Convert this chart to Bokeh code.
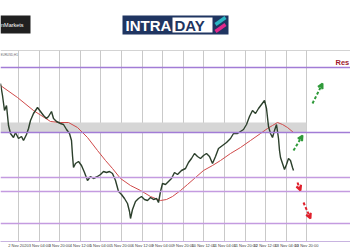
from bokeh.plotting import figure
from bokeh.layouts import column
from bokeh.models import Range1d, FixedTicker, Arrow, VeeHead, ColumnDataSource, Label, Span
from bokeh.core.properties import value
from bokeh.embed import file_html
from bokeh.resources import INLINE

# ---------------- data ----------------
bars = [0, 2, 4, 6, 8, 10, 13, 15, 18, 21, 23, 26, 28, 30, 33, 35, 37, 40, 43, 46, 48, 51, 53, 56,
        60, 63, 66, 69, 71, 72, 73, 75, 78, 81, 84, 87, 90, 93, 97, 100, 103, 106, 109, 112, 115,
        118, 121, 124, 127, 129, 130, 132, 135, 138, 141, 144, 147, 150, 153, 156, 158, 160, 162,
        165, 168, 171, 174, 177, 181, 185, 188, 191, 194, 197, 200, 203, 206, 209, 212, 215, 218,
        222, 226, 230, 233, 237, 240, 243, 246, 249, 252, 255, 258, 261, 264, 266, 268, 270, 272,
        274, 276, 278, 279, 280, 282, 284, 286, 288, 290, 292, 293]
price = [1.1917, 1.1905, 1.1890, 1.1895, 1.1875, 1.1867, 1.1863, 1.1868, 1.1862, 1.1864, 1.1860,
         1.1866, 1.1872, 1.1880, 1.1887, 1.1890, 1.1893, 1.1889, 1.1885, 1.1882, 1.1884, 1.1889,
         1.1882, 1.1879, 1.1877, 1.1876, 1.1871, 1.1867, 1.1860, 1.1845, 1.1833, 1.1837, 1.1839,
         1.1835, 1.1828, 1.1820, 1.1824, 1.1822, 1.1824, 1.1826, 1.1829, 1.1828, 1.1829, 1.1827,
         1.1820, 1.1809, 1.1806, 1.1802, 1.1797, 1.1789, 1.1782, 1.1791, 1.1799, 1.1802, 1.1804,
         1.1801, 1.1800, 1.1803, 1.1801, 1.1802, 1.1798, 1.1809, 1.1817, 1.1816, 1.1819, 1.1822,
         1.1828, 1.1826, 1.1830, 1.1832, 1.1838, 1.1842, 1.1847, 1.1844, 1.1842, 1.1845, 1.1847,
         1.1844, 1.1837, 1.1844, 1.1852, 1.1855, 1.1858, 1.1862, 1.1867, 1.1867, 1.1869, 1.1871,
         1.1876, 1.1884, 1.1890, 1.1887, 1.1892, 1.1896, 1.1900, 1.1892, 1.1874, 1.1867, 1.1863,
         1.1870, 1.1876, 1.1862, 1.1850, 1.1843, 1.1837, 1.1831, 1.1836, 1.1842, 1.1840, 1.1833,
         1.1830]

ma_bars = [0, 17, 33, 50, 60, 68, 77, 87, 97, 105, 112, 120, 130, 140, 150, 160, 166, 172, 180,
           187, 195, 203, 212, 220, 230, 240, 250, 260, 267, 272, 277, 282, 287, 293]
ma = [1.1915, 1.1903, 1.1890, 1.1879, 1.1878, 1.1878, 1.1873, 1.1863, 1.1850, 1.1840, 1.1832,
      1.1822, 1.1815, 1.1810, 1.1804, 1.1800, 1.1801, 1.1804, 1.1810, 1.1816, 1.1823, 1.1830,
      1.1835, 1.1840, 1.1847, 1.1853, 1.1860, 1.1867, 1.1872, 1.1875, 1.1878, 1.1876, 1.1873,
      1.1868]

levels = [1.1933, 1.1868, 1.1823, 1.1809, 1.1777]
zone_low = [1.1868]
zone_high = [1.1878]
zone_start = [0]
zone_end = [306]

up_x0 = [293, 312]
up_y0 = [1.1850, 1.1897]
up_x1 = [302, 322]
up_y1 = [1.1865, 1.1917]
dn_x0 = [297, 303]
dn_y0 = [1.1818, 1.1798]
dn_x1 = [300, 310]
dn_y1 = [1.1810, 1.1782]

tick_pos = [18, 39, 59, 80, 100, 121, 142, 162, 183, 203, 224, 245, 265, 286, 306]
tick_labels = ["2 Nov 2020", "3 Nov 04:00", "3 Nov 20:00", "4 Nov 12:00", "5 Nov 04:00",
               "5 Nov 20:00", "6 Nov 12:00", "9 Nov 04:00", "9 Nov 20:00", "10 Nov 12:00",
               "11 Nov 04:00", "11 Nov 20:00", "12 Nov 12:00", "13 Nov 04:00", "13 Nov 20:00"]

# ---------------- header ----------------
h = figure(width=350, height=48, x_range=Range1d(0, 350), y_range=Range1d(48, 0),
           output_backend="svg", toolbar_location=None, x_axis_location=None,
           y_axis_location=None, min_border=0)
h.grid.visible = False
h.outline_line_color = None
h.quad(left=[0], right=[30], top=[15], bottom=[33], fill_color="#202020", line_color=None)
h.text(x=[0.5], y=[24.5], text=["nMarkets"], text_color="white", text_font_size="5.5px",
       text_baseline="middle", text_font=value("Liberation Sans"))
h.quad(left=[122], right=[228], top=[15], bottom=[34], fill_color="#1f3561", line_color=None)
h.quad(left=[172], right=[212], top=[17], bottom=[32], fill_color="white", line_color=None)
h.text(x=[125], y=[25], text=["INTRA"], text_color="white", text_font_size="15px",
       text_font_style="bold", text_baseline="middle", text_font=value("Liberation Sans"))
h.text(x=[174], y=[25], text=["DAY"], text_color="#1f3561", text_font_size="15px",
       text_font_style="bold", text_baseline="middle", text_font=value("Liberation Sans"))
h.segment(x0=[215], y0=[24], x1=[225], y1=[17], line_color="#2bb7c4", line_width=3.5)
h.segment(x0=[215], y0=[31], x1=[225], y1=[24], line_color="#e2288c", line_width=3.5)

# ---------------- chart ----------------
p = figure(width=350, height=202, x_range=Range1d(0, 350), y_range=Range1d(1.1759, 1.1950),
           output_backend="svg", toolbar_location=None, y_axis_location=None,
           min_border_left=0, min_border_right=0, min_border_top=2, min_border_bottom=9)
p.outline_line_color = None
p.ygrid.visible = False
p.xgrid.ticker = FixedTicker(ticks=tick_pos)
p.xgrid.grid_line_color = "#c9c9c9"
p.xaxis.ticker = FixedTicker(ticks=tick_pos)
p.xaxis.major_label_overrides = {t: l for t, l in zip(tick_pos, tick_labels)}
p.xaxis.major_label_text_font_size = "4px"
p.xaxis.major_label_text_color = "#444444"
p.xaxis.major_label_standoff = 1
p.xaxis.major_tick_out = 0
p.xaxis.major_tick_in = 0
p.xaxis.minor_tick_out = 0
p.xaxis.minor_tick_in = 0
p.xaxis.axis_line_color = "#c8b4e0"

p.add_layout(Span(location=1.1950, dimension="width", line_color="#a8a8a8", line_width=1))

p.quad(left=zone_start, right=zone_end, bottom=zone_low, top=zone_high,
       fill_color="#d6d6d6", line_color=None)

level_colors = ["#a27cd6", "#a27cd6", "#c49be0", "#c49be0", "#c49be0"]
for lv, c in zip(levels, level_colors):
    p.add_layout(Span(location=lv, dimension="width", line_color=c, line_width=1.6))

p.line(ma_bars, ma, line_color="#d04a4a", line_width=1)
p.line(bars, price, line_color="#2b3f2b", line_width=1.4)

up = ColumnDataSource(dict(x0=up_x0, y0=up_y0, x1=up_x1, y1=up_y1))
dn = ColumnDataSource(dict(x0=dn_x0, y0=dn_y0, x1=dn_x1, y1=dn_y1))
p.add_layout(Arrow(source=up, x_start="x0", y_start="y0", x_end="x1", y_end="y1",
                   line_color="#2f9a3a", line_width=2, line_dash="3 2",
                   end=VeeHead(size=5, line_color="#2f9a3a", line_width=2, fill_color=None)))
p.add_layout(Arrow(source=dn, x_start="x0", y_start="y0", x_end="x1", y_end="y1",
                   line_color="#e0202c", line_width=2, line_dash="3 2",
                   end=VeeHead(size=5, line_color="#e0202c", line_width=2, fill_color=None)))

p.add_layout(Label(x=335, y=1.1938, text="Res", text_color="#a0182c",
                   text_font_style="bold", text_font_size="7.5px", text_baseline="middle",
                   text_font="Liberation Sans"))
p.add_layout(Label(x=0, y=1.1948, text="EURUSD,H1", text_color="#666666",
                   text_font_size="3px", text_baseline="top"))

layout = column(h, p, spacing=0)
open("out.html", "w").write(file_html(layout, INLINE))
